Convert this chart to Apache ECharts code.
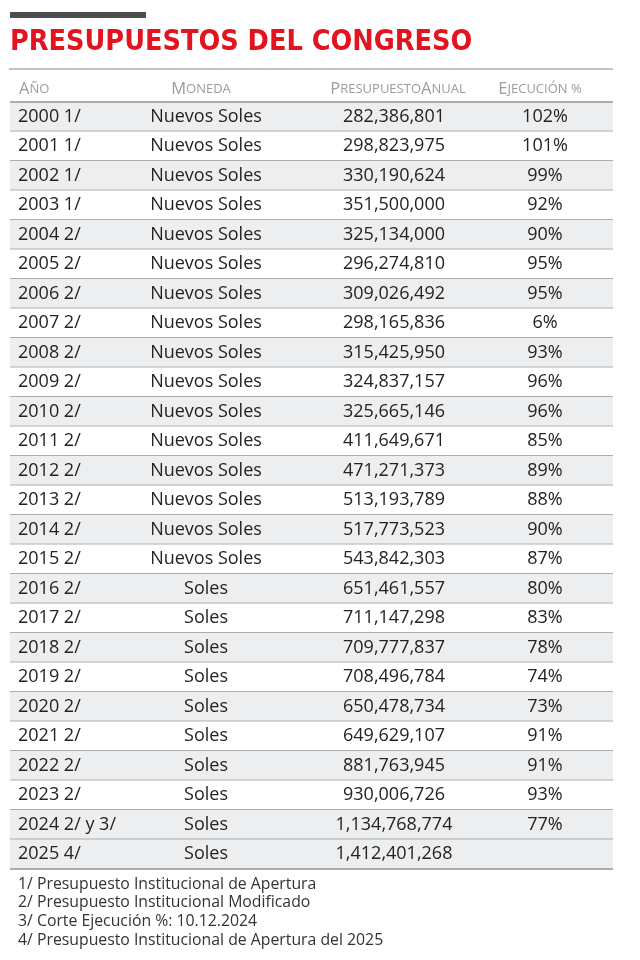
<!DOCTYPE html>
<html>
<head>
<meta charset="utf-8">
<script src="https://cdn.jsdelivr.net/npm/echarts@6/dist/echarts.min.js"></script>
<style>
  html, body { margin: 0; padding: 0; background: #fff; }
  #chart { width: 640px; height: 960px; }
</style>
</head>
<body>
<div id="chart"></div>
<script>
// datos de la tabla
var anios = ['2000 1/', '2001 1/', '2002 1/', '2003 1/', '2004 2/', '2005 2/', '2006 2/', '2007 2/',
  '2008 2/', '2009 2/', '2010 2/', '2011 2/', '2012 2/', '2013 2/', '2014 2/', '2015 2/', '2016 2/',
  '2017 2/', '2018 2/', '2019 2/', '2020 2/', '2021 2/', '2022 2/', '2023 2/', '2024 2/ y 3/', '2025 4/'];
var monedas = ['Nuevos Soles', 'Nuevos Soles', 'Nuevos Soles', 'Nuevos Soles', 'Nuevos Soles', 'Nuevos Soles',
  'Nuevos Soles', 'Nuevos Soles', 'Nuevos Soles', 'Nuevos Soles', 'Nuevos Soles', 'Nuevos Soles', 'Nuevos Soles',
  'Nuevos Soles', 'Nuevos Soles', 'Nuevos Soles', 'Soles', 'Soles', 'Soles', 'Soles', 'Soles', 'Soles', 'Soles',
  'Soles', 'Soles', 'Soles'];
var presupuestos = [282386801, 298823975, 330190624, 351500000, 325134000, 296274810, 309026492, 298165836,
  315425950, 324837157, 325665146, 411649671, 471271373, 513193789, 517773523, 543842303, 651461557,
  711147298, 709777837, 708496784, 650478734, 649629107, 881763945, 930006726, 1134768774, 1412401268];
var ejecucion = [102, 101, 99, 92, 90, 95, 95, 6, 93, 96, 96, 85, 89, 88, 90, 87, 80, 83, 78, 74, 73, 91, 91,
  93, 77, null];
var encabezados = [['A', 'ÑO'], ['M', 'ONEDA'], ['P', 'RESUPUESTO', 'A', 'NUAL'], ['E', 'JECUCIÓN %']];
var notas = [
  '1/ Presupuesto Institucional de Apertura',
  '2/ Presupuesto Institucional Modificado',
  '3/ Corte Ejecución %: 10.12.2024',
  '4/ Presupuesto Institucional de Apertura del 2025'
];

var FONT = '"Open Sans", "Noto Sans", sans-serif';
var X_LEFT = 10, X_RIGHT = 613;
var COLS = [18, 206, 394, 545];

function fmt(n) {
  return n.toLocaleString('en-US');
}

function renderRow(params, api) {
  var i = api.value(0);
  var y = api.coord([0, i])[1];
  var h = api.size([0, 1])[1];
  var top = y - h / 2;
  var x0 = api.coord([X_LEFT, i])[0];
  var x1 = api.coord([X_RIGHT, i])[0];
  var gris = (i % 2 === 0) || i === anios.length - 1;
  var txt = { fill: '#232323', fontSize: 18, fontFamily: FONT, verticalAlign: 'middle' };
  var children = [
    { type: 'rect', shape: { x: x0, y: top, width: x1 - x0, height: h },
      style: { fill: gris ? '#eceef0' : '#ffffff' } },
    { type: 'line', shape: { x1: x0, y1: top + h, x2: x1, y2: top + h },
      style: { stroke: '#adadad', lineWidth: 2 } },
    { type: 'text', x: api.coord([COLS[0], i])[0], y: y,
      style: Object.assign({ text: anios[i], align: 'left' }, txt) },
    { type: 'text', x: api.coord([COLS[1], i])[0], y: y,
      style: Object.assign({ text: monedas[i], align: 'center' }, txt) },
    { type: 'text', x: api.coord([COLS[2], i])[0], y: y,
      style: Object.assign({ text: fmt(presupuestos[i]), align: 'center' }, txt) }
  ];
  if (ejecucion[i] != null) {
    children.push({ type: 'text', x: api.coord([COLS[3], i])[0], y: y,
      style: Object.assign({ text: ejecucion[i] + '%', align: 'center' }, txt) });
  }
  if (i === 0) {
    children.push({ type: 'line', shape: { x1: x0, y1: top, x2: x1, y2: top },
      style: { stroke: '#adadad', lineWidth: 2 } });
  }
  return { type: 'group', children: children };
}

// encabezado en versalitas
function versalitas(partes) {
  return partes.map(function (p, k) {
    return '{' + (k % 2 === 0 ? 'g' : 'p') + '|' + p + '}';
  }).join('');
}
var headAlign = ['left', 'center', 'center', 'center'];
var headX = [19, 201, 398, 540];
var graphics = [
  { type: 'rect', shape: { x: 10, y: 12, width: 136, height: 6 }, style: { fill: '#4d4d4d' } },
  { type: 'text', x: 10, y: 43, style: {
      text: 'PRESUPUESTOS DEL CONGRESO', fill: '#e1141f', fontSize: 28.5, fontWeight: 'bold',
      fontFamily: '"DejaVu Sans Condensed", "Liberation Sans Narrow", sans-serif', verticalAlign: 'middle' } },
  { type: 'line', shape: { x1: 9, y1: 69, x2: 613, y2: 69 }, style: { stroke: '#c2c2c2', lineWidth: 2 } }
];
encabezados.forEach(function (h, k) {
  graphics.push({ type: 'text', x: headX[k], y: 89, style: {
    text: versalitas(h), align: headAlign[k], verticalAlign: 'middle',
    rich: {
      g: { fontSize: 16.5, fill: '#9c9c9c', fontFamily: FONT },
      p: { fontSize: 13, fill: '#9c9c9c', fontFamily: FONT }
    }
  } });
});
notas.forEach(function (n, k) {
  graphics.push({ type: 'text', x: 18, y: 884 + k * 18.7, style: {
    text: n, fill: '#333333', fontSize: 15.8, fontFamily: FONT, verticalAlign: 'middle' } });
});

var chart = echarts.init(document.getElementById('chart'));
chart.setOption({
  backgroundColor: '#ffffff',
  animation: false,
  grid: { left: 0, right: 0, top: 102, height: 767 },
  xAxis: { type: 'value', min: 0, max: 640, show: false },
  yAxis: { type: 'category', data: anios, inverse: true, show: false },
  graphic: graphics,
  series: [{
    type: 'custom',
    renderItem: renderRow,
    data: anios.map(function (a, i) { return [i]; }),
    encode: { y: 0 },
    silent: true
  }]
});
</script>
</body>
</html>
